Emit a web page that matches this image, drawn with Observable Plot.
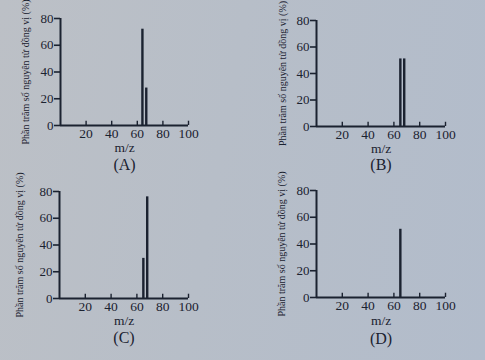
<!DOCTYPE html>
<html>
<head>
<meta charset="utf-8">
<script src="https://cdn.jsdelivr.net/npm/d3@7"></script>
<script src="https://cdn.jsdelivr.net/npm/@observablehq/plot@0.6"></script>
<style>
  html, body { margin: 0; padding: 0; }
  #page {
    position: relative; width: 485px; height: 360px; overflow: hidden;
    background: linear-gradient(100deg, #bcc0c6 0%, #b7bec8 45%, #b2bccb 100%);
    font-family: "Liberation Serif", "DejaVu Serif", serif;
  }
  .panel { position: absolute; }
  .panel svg { background: transparent !important; overflow: visible; }
</style>
</head>
<body>
<div id="page"></div>
<script>
// ---- data ----
const mzA = [64, 67];
const pctA = [72, 28];
const mzB = [65, 68];
const pctB = [51, 51];
const mzC = [65, 68];
const pctC = [30, 76];
const mzD = [65];
const pctD = [51];
const xTicks = [20, 40, 60, 80, 100];
const yTicks = [0, 20, 40, 60, 80];
const yLabel = "Phần trăm số nguyên tử đồng vị (%)";
const xLabel = "m/z";
const panelNames = ["(A)", "(B)", "(C)", "(D)"];

const ink = "#1b2230";

const panels = [
  {mz: mzA, pct: pctA, name: panelNames[0], left: 0, top: 0, width: 245, height: 180,
   mL: 60, mR: 57, mT: 18, mB: 55, labDx: -35, mzDy: 26, nameDy: 44},
  {mz: mzB, pct: pctB, name: panelNames[1], left: 245, top: 0, width: 240, height: 180,
   mL: 71, mR: 40, mT: 20, mB: 54, labDx: -34, mzDy: 26, nameDy: 43},
  {mz: mzC, pct: pctC, name: panelNames[2], left: 0, top: 175, width: 245, height: 185,
   mL: 59, mR: 57, mT: 16, mB: 62, labDx: -40, mzDy: 26, nameDy: 44},
  {mz: mzD, pct: pctD, name: panelNames[3], left: 245, top: 175, width: 240, height: 185,
   mL: 71, mR: 40, mT: 15, mB: 63, labDx: -35, mzDy: 27, nameDy: 46}
];

const page = document.getElementById("page");

for (const p of panels) {
  const rows = p.mz.map((m, i) => ({mz: m, pct: p.pct[i]}));
  const chart = Plot.plot({
    width: p.width,
    height: p.height,
    marginLeft: p.mL, marginRight: p.mR, marginTop: p.mT, marginBottom: p.mB,
    style: {background: "transparent", color: ink, fontFamily: "'Liberation Serif', serif"},
    x: {domain: [0, 100]},
    y: {domain: [0, 80]},
    marks: [
      Plot.axisX(xTicks, {tickSize: 0, tickPadding: 3, fontSize: 13.5, label: null, stroke: ink, fill: ink}),
      Plot.axisY(yTicks, {tickSize: 6, tickPadding: 1, fontSize: 13, label: null, stroke: ink, fill: ink, strokeWidth: 1.6}),
      Plot.ruleX(xTicks, {x: d => d, y1: 0, y2: 3.2, stroke: ink, strokeWidth: 1.4}),
      Plot.ruleY([0], {stroke: ink, strokeWidth: 2}),
      Plot.ruleX([0], {stroke: ink, strokeWidth: 2}),
      Plot.ruleX(rows, {x: "mz", y1: 0, y2: "pct", stroke: ink, strokeWidth: 2.4}),
      Plot.text([yLabel], {frameAnchor: "left", rotate: -90, dx: p.labDx, fontSize: 10, fill: ink, textAnchor: "middle"}),
      Plot.text([xLabel], {frameAnchor: "bottom", dy: p.mzDy, fontSize: 13.5, fill: ink, textAnchor: "middle"}),
      Plot.text([p.name], {frameAnchor: "bottom", dy: p.nameDy, fontSize: 16, fill: ink, textAnchor: "middle"})
    ]
  });
  const div = document.createElement("div");
  div.className = "panel";
  div.style.left = p.left + "px";
  div.style.top = p.top + "px";
  div.appendChild(chart);
  page.appendChild(div);
}
</script>
</body>
</html>
